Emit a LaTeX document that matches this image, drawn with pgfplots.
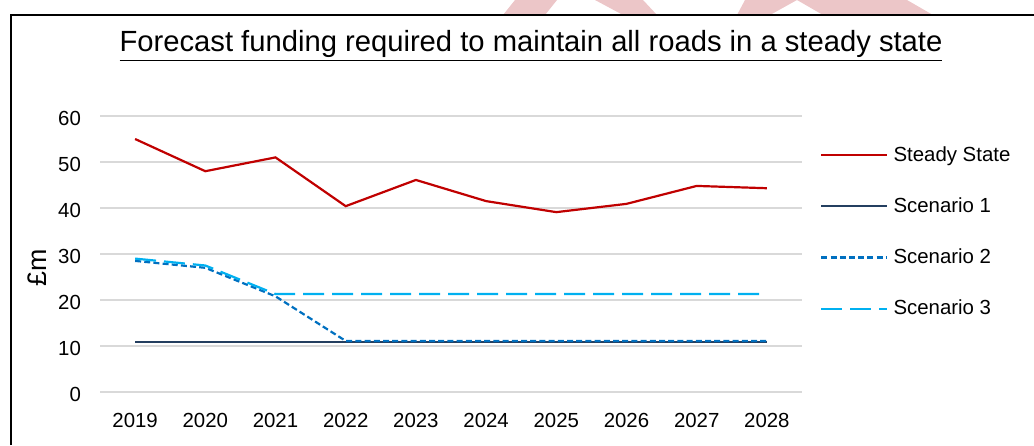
\documentclass[border=0pt]{standalone}
\usepackage{pgfplots}
\pgfplotsset{compat=1.18}
\usepackage{fontspec}
\setmainfont{Liberation Sans}
\definecolor{ssred}{HTML}{C00000}
\definecolor{scnavy}{HTML}{243F60}
\definecolor{scblue}{HTML}{0070C0}
\definecolor{sccyan}{HTML}{00B0F0}
\definecolor{gridgr}{HTML}{D9D9D9}
\definecolor{wmpink}{HTML}{ECC6C8}

\begin{document}
\begin{tikzpicture}[x=0.5pt, y=-0.5pt]
  \path[use as bounding box] (0,0) rectangle (1034,445);
  % faint watermark at the top edge
  \fill[wmpink] (503,15) -- (545,15) -- (557,0) -- (515,0) -- cycle;
  \fill[wmpink] (595,0) -- (643,0) -- (657,15) -- (623,15) -- cycle;
  \fill[wmpink] (737,15) -- (770,15) -- (797,0) -- (745,0) -- cycle;
  \fill[wmpink] (797,0) -- (907,0) -- (933,15) -- (823,15) -- cycle;
  % frame
  \draw[line width=1pt] (10.5,445) -- (10.5,15) -- (1034,15);
  % title
  \node[font=\fontsize{14.6}{17}\selectfont] at (531,46) {\underline{Forecast funding required to maintain all roads in a steady state}};
  \node[font=\fontsize{13.4}{15}\selectfont, rotate=90] at (37,268) {£m};

  \begin{axis}[
    at={(50pt,-196pt)}, anchor=south west,
    scale only axis, width=351pt, height=138pt,
    xmin=-0.5, xmax=9.5, ymin=0, ymax=60,
    xtick={0,...,9},
    xticklabels={2019,2020,2021,2022,2023,2024,2025,2026,2027,2028},
    ytick={0,10,...,60},
    axis line style={draw=none}, major tick length=0pt,
    ymajorgrids, grid style={gridgr, line width=0.8pt},
    tick label style={font=\fontsize{10.2}{12}\selectfont},
    /pgf/number format/assume math mode=true,
    yticklabel style={xshift=-6pt, yshift=-1pt},
    xticklabel style={yshift=-7pt},
    clip=false,
    legend style={at={(1.0256,0.899)}, anchor=north west, draw=none, fill=none,
      font=\fontsize{10.2}{12}\selectfont, inner sep=0pt, row sep=14.7pt,
      column sep=1.5pt, nodes={inner sep=1pt}},
    legend cell align=left,
    legend image code/.code={\draw[#1] (0pt,0pt) -- (33pt,0pt);},
  ]
    \addplot[ssred, line width=1.1pt] coordinates {(0,55) (1,48) (2,51) (3,40.4) (4,46.1) (5,41.5) (6,39.1) (7,40.9) (8,44.8) (9,44.3)};
    \addlegendentry{Steady State}
    \addplot[scnavy, line width=1.1pt] coordinates {(0,10.8) (1,10.8) (2,10.8) (3,10.8) (4,10.8) (5,10.8) (6,10.8) (7,10.8) (8,10.8) (9,10.8)};
    \addlegendentry{Scenario 1}
    \addplot[scblue, line width=1.1pt, dash pattern=on 3pt off 1.6pt] coordinates {(0,28.5) (1,27) (2,20.8) (3,11.1) (4,11.1) (5,11.1) (6,11.1) (7,11.1) (8,11.1) (9,11.1)};
    \addlegendentry{Scenario 2}
    \addplot[sccyan, line width=1.1pt, dash pattern=on 10.5pt off 4pt] coordinates {(0,29) (1,27.5) (2,21.3) (3,21.3) (4,21.3) (5,21.3) (6,21.3) (7,21.3) (8,21.3) (9,21.3)};
    \addlegendentry{Scenario 3}
  \end{axis}
\end{tikzpicture}
\end{document}
